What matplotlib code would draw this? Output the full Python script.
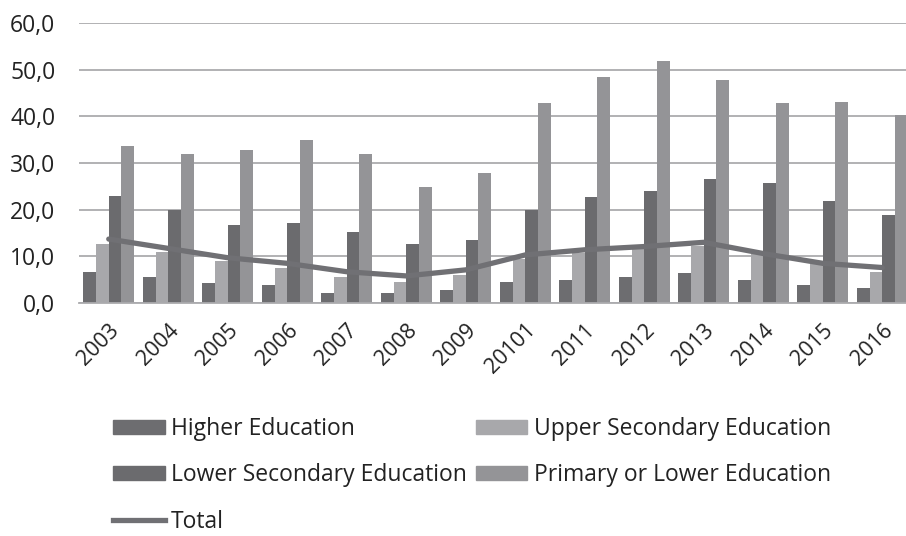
import matplotlib
matplotlib.use("Agg")
import matplotlib.pyplot as plt
import numpy as np
from matplotlib.patches import Patch
from matplotlib.lines import Line2D

years = ["2003", "2004", "2005", "2006", "2007", "2008", "2009", "20101",
         "2011", "2012", "2013", "2014", "2015", "2016"]
higher = [6.7, 5.6, 4.2, 3.9, 2.2, 2.2, 2.8, 4.5, 5.0, 5.6, 6.4, 5.0, 3.9, 3.3]
upper = [12.7, 11.0, 9.1, 7.5, 5.6, 4.5, 6.1, 9.5, 10.7, 11.5, 12.2, 10.5, 8.4, 6.7]
lower = [23.0, 19.9, 16.7, 17.2, 15.3, 12.7, 13.5, 19.9, 22.7, 24.0, 26.5, 25.7, 21.9, 18.9]
primary = [33.6, 32.0, 32.7, 34.9, 32.0, 24.8, 27.9, 42.8, 48.5, 51.8, 47.7, 42.8, 43.1, 40.3]
total = [13.7, 11.7, 9.7, 8.5, 6.7, 5.8, 7.1, 10.3, 11.4, 12.1, 13.0, 10.6, 8.5, 7.6]
yticks = [0, 10, 20, 30, 40, 50, 60]

FONT = ["Open Sans", "DejaVu Sans"]
plt.rcParams['font.family'] = FONT

c_higher = "#6d6d70"
c_upper = "#a8a8ab"
c_lower = "#6b6b6e"
c_primary = "#949497"
c_total = "#707074"
c_grid = "#ababae"
c_text = "#222222"

fig = plt.figure(figsize=(9.06, 5.36), dpi=100)
W, H = 906, 536
x0, x1 = 79, 912
ytop, ybot = 23, 303
ax = fig.add_axes([x0 / W, (H - ybot) / H, (x1 - x0) / W, (ybot - ytop) / H])

x = np.arange(len(years))
bw = 0.214
offs = [-1.5, -0.5, 0.5, 1.5]
for series, col, o in zip([higher, upper, lower, primary],
                          [c_higher, c_upper, c_lower, c_primary], offs):
    ax.bar(x + o * bw, series, width=bw, color=col, zorder=2)

ax.plot(x, total, color=c_total, lw=3.8, zorder=3, solid_capstyle='round')

ax.set_xlim(-0.5, len(years) - 0.5)
ax.set_ylim(0, 60)
ax.set_yticks(yticks)
ax.set_yticklabels([f"{v:.1f}".replace(".", ",") for v in yticks], fontsize=16.5, color=c_text)
ax.yaxis.grid(True, color=c_grid, lw=1.3, zorder=0)
ax.set_axisbelow(True)
ax.set_xticks(x)
ax.set_xticklabels(years, rotation=45, ha="right", rotation_mode="anchor", fontsize=15.5, color=c_text)
ax.tick_params(axis="both", length=0)
ax.tick_params(axis="y", pad=17)
ax.tick_params(axis="x", pad=12)
for s in ["top", "right", "left"]:
    ax.spines[s].set_visible(False)
ax.spines["bottom"].set_color(c_grid)
ax.spines["bottom"].set_linewidth(1.3)

handles = [
    Patch(color=c_higher, label="Higher Education"),
    Patch(color=c_lower, label="Lower Secondary Education"),
    Line2D([0], [0], color=c_total, lw=3.8, label="Total"),
    Patch(color=c_upper, label="Upper Secondary Education"),
    Patch(color=c_primary, label="Primary or Lower Education"),
]
fig.legend(handles=handles, ncol=2, loc="upper left",
           bbox_to_anchor=(113 / W, 1 - 417 / H), frameon=False,
           fontsize=16.5, handlelength=2.25, handleheight=0.57, handletextpad=0.27,
           columnspacing=0.4, labelspacing=0.98, borderaxespad=0, borderpad=0,
           labelcolor=c_text)

fig.savefig("out.png", dpi=100)
